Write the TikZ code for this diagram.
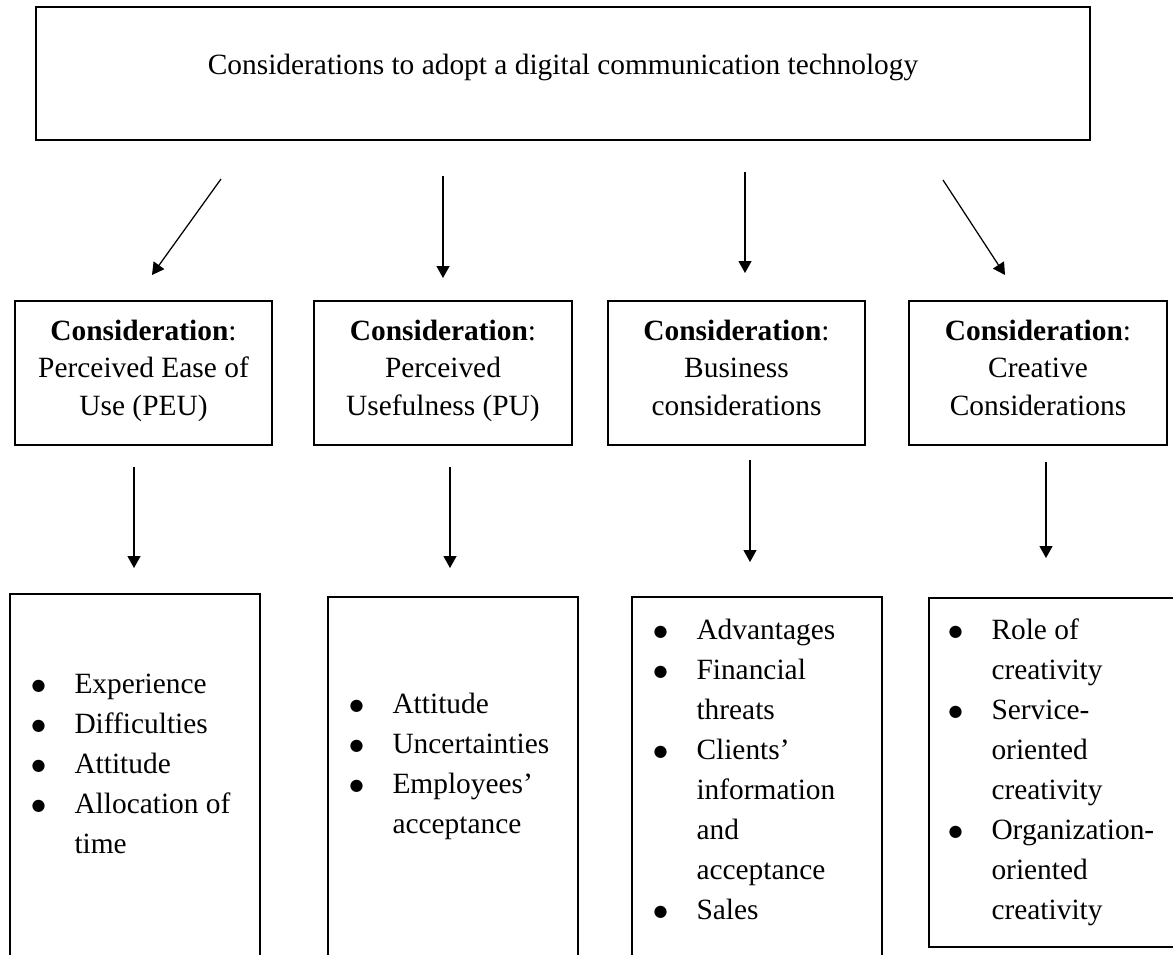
\documentclass[tikz,border=0pt]{standalone}
\usepackage{fontspec}
\setmainfont{Liberation Serif}
\newfontfamily\symfont{DejaVu Sans}
\usetikzlibrary{arrows.meta}
\newcommand{\bul}{\makebox[17.2pt][l]{\raisebox{1.2pt}{\fontsize{6.4pt}{6.4pt}\symfont ●}}}
\newcommand{\cont}{\hspace*{17.2pt}}
\begin{document}
\begin{tikzpicture}[x=0.4pt,y=-0.4pt,
  frame/.style={draw=black, line width=1pt, inner sep=0pt},
  conn/.style={line width=0.5pt, -{Triangle[length=4.8pt,width=5.2pt]}},
  title/.style={anchor=base, inner sep=0pt, font=\fontsize{11.76pt}{15pt}\selectfont},
  head/.style={anchor=base, text width=100pt, align=flush center, inner sep=0pt,
    font=\fontsize{11.76pt}{15pt}\selectfont},
  items/.style={anchor=base west, text width=92pt, align=flush left, inner sep=0pt,
    font=\fontsize{11.76pt}{16pt}\selectfont}]
\useasboundingbox (0,0) rectangle (1173,954);
\clip (0,0) rectangle (1173,954);

% top box
\node[frame, minimum width=1054*0.4pt, minimum height=133*0.4pt] (top) at (563,73.5) {};
\node[title] (toptext) at (563,74) {Considerations to adopt a digital communication technology};

% consideration boxes
\node[frame, minimum width=257*0.4pt, minimum height=144*0.4pt] (m1) at (143.5,373) {};
\node[frame, minimum width=258*0.4pt, minimum height=144*0.4pt] (m2) at (443,373) {};
\node[frame, minimum width=257*0.4pt, minimum height=144*0.4pt] (m3) at (736.5,373) {};
\node[frame, minimum width=258*0.4pt, minimum height=144*0.4pt] (m4) at (1038,373) {};

\node[head] (m1t) at (143.5,340) {\textbf{Consideration}:\\Perceived Ease of\\Use (PEU)};
\node[head] (m2t) at (443,340) {\textbf{Consideration}:\\Perceived\\Usefulness (PU)};
\node[head] (m3t) at (736.5,340) {\textbf{Consideration}:\\Business\\considerations};
\node[head] (m4t) at (1038,340) {\textbf{Consideration}:\\Creative\\Considerations};

% detail boxes
\node[frame, minimum width=250*0.4pt, minimum height=376*0.4pt] (b1) at (135,782) {};
\node[frame, minimum width=250*0.4pt, minimum height=373*0.4pt] (b2) at (453,783.5) {};
\node[frame, minimum width=250*0.4pt, minimum height=373*0.4pt] (b3) at (757,783.5) {};
\node[frame, minimum width=256*0.4pt, minimum height=349*0.4pt] (b4) at (1057,772.5) {};

\node[items] (b1t) at (31,693) {\bul Experience\\\bul Difficulties\\\bul Attitude\\\bul Allocation of\\\cont time};
\node[items] (b2t) at (349,713) {\bul Attitude\\\bul Uncertainties\\\bul Employees’\\\cont acceptance};
\node[items] (b3t) at (653,639) {\bul Advantages\\\bul Financial\\\cont threats\\\bul Clients’\\\cont information\\\cont and\\\cont acceptance\\\bul Sales};
\node[items] (b4t) at (948,639) {\bul Role of\\\cont creativity\\\bul Service-\\\cont oriented\\\cont creativity\\\bul Organization-\\\cont oriented\\\cont creativity};

% arrow end points
\coordinate (a1s) at (221,179);  \coordinate (a1e) at (152,275);
\coordinate (a2s) at (443,176);  \coordinate (a2e) at (443,278);
\coordinate (a3s) at (745,172);  \coordinate (a3e) at (745,273);
\coordinate (a4s) at (943,180);  \coordinate (a4e) at (1005,275);
\coordinate (l1s) at (134,467);  \coordinate (l1e) at (134,568);
\coordinate (l2s) at (450,467);  \coordinate (l2e) at (450,568);
\coordinate (l3s) at (750,460);  \coordinate (l3e) at (750,562);
\coordinate (l4s) at (1046,462); \coordinate (l4e) at (1046,558);

\draw[conn] (a1s) -- (a1e);
\draw[conn] (a2s) -- (a2e);
\draw[conn] (a3s) -- (a3e);
\draw[conn] (a4s) -- (a4e);
\draw[conn] (l1s) -- (l1e);
\draw[conn] (l2s) -- (l2e);
\draw[conn] (l3s) -- (l3e);
\draw[conn] (l4s) -- (l4e);
\end{tikzpicture}
\end{document}
